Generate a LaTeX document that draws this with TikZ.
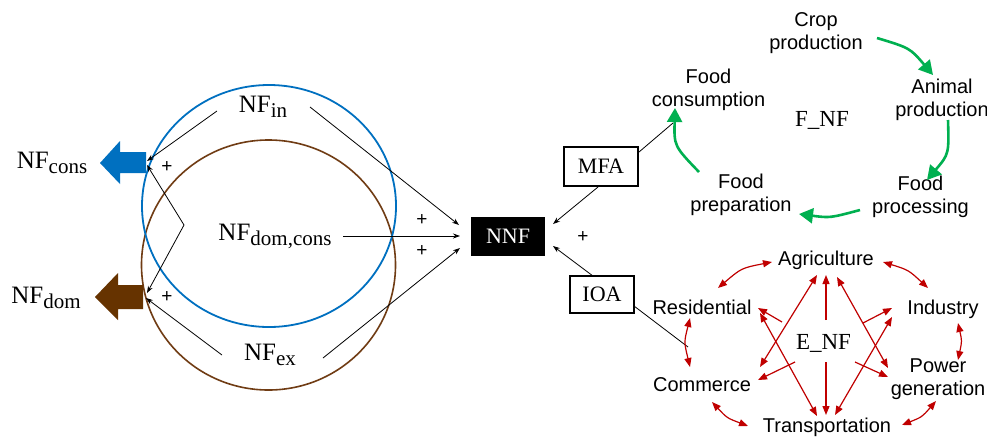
\documentclass[tikz,border=0pt]{standalone}
\usepackage{fontspec}
\newfontfamily\sansf{Liberation Sans}
\newfontfamily\seriff{Liberation Serif}
\usetikzlibrary{arrows.meta}
\definecolor{nfblue}{RGB}{0,112,192}
\definecolor{nfbrown}{RGB}{112,60,20}
\definecolor{arrbrown}{RGB}{102,51,0}
\definecolor{cyclegreen}{RGB}{0,176,80}
\definecolor{enfred}{RGB}{192,0,0}
\newcommand\nfsub[1]{NF\raisebox{-0.2em}{\fontsize{21}{21}\selectfont #1}}
\begin{document}
\begin{tikzpicture}[x=1pt,y=-1pt,
  serifl/.style={font=\seriff\fontsize{25}{28}\selectfont, inner sep=0pt},
  seriflab/.style={font=\seriff\fontsize{23}{26}\selectfont, inner sep=0pt},
  boxl/.style={draw, line width=1.3pt, font=\seriff\fontsize{22}{24}\selectfont, inner sep=0pt},
  sansl/.style={font=\sansf\fontsize{20}{23}\selectfont, align=center, inner sep=0pt},
  conn/.style={line width=0.8pt, black},
  connarr/.style={conn, -{Stealth[length=7pt,width=5pt]}},
  connboth/.style={conn, {Stealth[length=7pt,width=5pt]}-{Stealth[length=7pt,width=5pt]}},
  plus/.style={font=\sansf\fontsize{19}{19}\selectfont, inner sep=0pt},
  greenarr/.style={cyclegreen, line width=2.6pt, -{Triangle[length=14pt,width=15pt]}},
  redarr/.style={enfred, line width=1.2pt, -{Triangle[length=9pt,width=7pt]}},
  redboth/.style={enfred, line width=1.2pt, {Triangle[length=9pt,width=7pt]}-{Triangle[length=9pt,width=7pt]}},
]
\useasboundingbox (0,0) rectangle (987,437);
\fill[white] (0,0) rectangle (987,437);

% circles
\draw[nfbrown, line width=1.6pt] (268.5,265) ellipse [x radius=127pt, y radius=125pt];
\draw[nfblue, line width=1.8pt] (269,206) ellipse [x radius=127pt, y radius=121pt];

% block arrows
\fill[nfblue] (100,163) -- (120,141) -- (120,152) -- (146,152) -- (146,173) -- (120,173) -- (120,184) -- cycle;
\fill[arrbrown] (95,297) -- (118,273) -- (118,285) -- (143,285) -- (143,309) -- (118,309) -- (118,320) -- cycle;

% left texts
\node[serifl] (nfcons) at (52,163) {\nfsub{cons}};
\node[serifl] (nfdom) at (46,298) {\nfsub{dom}};
\node[serifl] (nfin) at (263,107) {\nfsub{in}};
\node[serifl] (nfdc) at (275,236) {\nfsub{dom,cons}};
\node[serifl] (nfex) at (270,355) {\nfsub{ex}};

% boxes
\node[fill=black, text=white, font=\seriff\fontsize{22}{24}\selectfont, minimum width=74pt, minimum height=39pt, inner sep=0pt] (nnf) at (508,236.5) {NNF};
\node[boxl, minimum width=74pt, minimum height=39pt] (mfa) at (601,166.5) {MFA};
\node[boxl, minimum width=64pt, minimum height=37pt] (ioa) at (602,294.5) {IOA};

% plus signs
\node[plus] (p1) at (167,167) {+};
\node[plus] (p2) at (167,297) {+};
\node[plus] (p3) at (422,220) {+};
\node[plus] (p4) at (422,251) {+};
\node[plus] (p5) at (583,237) {+};

% black connector coordinates
\coordinate (inL) at (217,111);
\coordinate (consT) at (147,161);
\coordinate (consB) at (147,165);
\coordinate (zz) at (184,225);
\coordinate (domT) at (147,293);
\coordinate (exL) at (222,355);
\coordinate (domB) at (146,298);
\coordinate (inR) at (310,107);
\coordinate (dcR) at (343,236);
\coordinate (exR) at (323,358);
\coordinate (nnfA) at (459,225);
\coordinate (nnfB) at (460,236);
\coordinate (nnfC) at (460,248);
\coordinate (nnfD) at (553,224);
\coordinate (nnfE) at (553,246);
\coordinate (mfaB) at (598,187);
\coordinate (ioaT) at (593,276);
\coordinate (mfaR) at (639,152);
\coordinate (consTip) at (673,123);
\coordinate (ioaR) at (634,306);
\coordinate (rcMid) at (688,347);

\draw[connarr] (inL) -- (consT);
\draw[connboth] (consB) -- (zz) -- (domT);
\draw[connarr] (exL) -- (domB);
\draw[connarr] (inR) -- (nnfA);
\draw[connarr] (dcR) -- (nnfB);
\draw[connarr] (exR) -- (nnfC);
\draw[connarr] (mfaB) -- (nnfD);
\draw[connarr] (ioaT) -- (nnfE);
\draw[conn] (mfaR) -- (consTip);
\draw[conn] (ioaR) -- (rcMid);

% food cycle
\node[sansl] (crop) at (816,33.5) {Crop\\production};
\node[sansl] (animal) at (942,99.5) {Animal\\production};
\node[sansl] (proc) at (920.5,196.5) {Food\\processing};
\node[sansl] (prep) at (741,195) {Food\\preparation};
\node[sansl] (fcons) at (708.5,90) {Food\\consumption};
\node[seriflab] (fnf) at (822,120) {F\_NF};

\coordinate (g1a) at (877,38);  \coordinate (g1b) at (933,75);
\coordinate (g2a) at (948,120); \coordinate (g2b) at (927,180);
\coordinate (g3a) at (860,210); \coordinate (g3b) at (799,214);
\coordinate (g4a) at (699,172); \coordinate (g4b) at (675,108);
\draw[greenarr] (g1a) .. controls (910,48) .. (g1b);
\draw[greenarr] (g2a) .. controls (949,154) .. (g2b);
\draw[greenarr] (g3a) .. controls (830,218) .. (g3b);
\draw[greenarr] (g4a) .. controls (674,146) .. (g4b);

% energy
\node[sansl] (agri) at (826,260) {Agriculture};
\node[sansl] (ind) at (943,309) {Industry};
\node[sansl] (pow) at (938,379.5) {Power\\generation};
\node[sansl] (trans) at (827,427) {Transportation};
\node[sansl] (comm) at (702,385) {Commerce};
\node[sansl] (res) at (702,307) {Residential};
\node[seriflab] (enf) at (823.5,343) {E\_NF};

% ring
\coordinate (r1a) at (718,288); \coordinate (r1b) at (772,262);
\coordinate (r2a) at (883,262); \coordinate (r2b) at (928,288);
\coordinate (r3a) at (958,323); \coordinate (r3b) at (958,360);
\coordinate (r4a) at (936,401); \coordinate (r4b) at (902,425);
\coordinate (r5a) at (748,426); \coordinate (r5b) at (712,402);
\coordinate (r6a) at (690,367); \coordinate (r6b) at (690,318);
\draw[redboth] (r1a) .. controls (741.5,268) .. (r1b);
\draw[redboth] (r2a) .. controls (908.5,270) .. (r2b);
\draw[redboth] (r3a) .. controls (962,341) .. (r3b);
\draw[redboth] (r4a) .. controls (922,417) .. (r4b);
\draw[redboth] (r5a) .. controls (727,418) .. (r5b);
\draw[redboth] (r6a) .. controls (684,342) .. (r6b);

% star from E_NF
\coordinate (eU) at (826,320);  \coordinate (agU) at (826,275);
\coordinate (eD) at (826,362);  \coordinate (trD) at (826,415);
\coordinate (eRes) at (782,322); \coordinate (resE) at (758,308);
\coordinate (eCom) at (795,362); \coordinate (comE) at (758,380);
\coordinate (eInd) at (863,323); \coordinate (indE) at (892,308);
\coordinate (ePow) at (855,362); \coordinate (powE) at (888,377);
\draw[redarr] (eU) -- (agU);
\draw[redarr] (eD) -- (trD);
\draw[redarr] (eRes) -- (resE);
\draw[redarr] (eCom) -- (comE);
\draw[redarr] (eInd) -- (indE);
\draw[redarr] (ePow) -- (powE);
\coordinate (comL) at (760,367); \coordinate (agL) at (817,275);
\coordinate (resL) at (760,313); \coordinate (trL) at (817,416);
\coordinate (agR) at (837,277); \coordinate (powL) at (888,368);
\coordinate (indL) at (892,317); \coordinate (trR) at (835,415);
\draw[redboth] (comL) -- (agL);
\draw[redboth] (resL) -- (trL);
\draw[redboth] (agR) -- (powL);
\draw[redboth] (trR) -- (indL);
\end{tikzpicture}
\end{document}
